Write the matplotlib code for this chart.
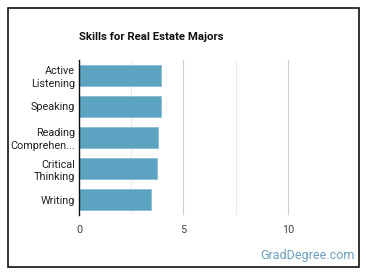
import matplotlib.pyplot as plt
from matplotlib.patches import Rectangle

plt.rcParams['font.family'] = ['Roboto', 'DejaVu Sans']

skills = ['Active\nListening', 'Speaking', 'Reading\nComprehen...', 'Critical\nThinking', 'Writing']
scores = [3.92, 3.92, 3.78, 3.73, 3.44]

fig = plt.figure(figsize=(3.7, 2.78), dpi=100)
ax = fig.add_axes([79/370, 1-215/278, (340-79)/370, (215-60)/278])

ypos = list(range(len(skills)))[::-1]
ax.barh(ypos, scores, height=0.65, color='#5ba3c0', edgecolor='#86bdd3', linewidth=0.6, zorder=3)

ax.set_xlim(0, 12.5)
ax.set_ylim(-0.5, len(skills) - 0.5)
ax.set_xticks([0, 5, 10])
ax.set_xticks([2.5, 7.5], minor=True)
ax.set_yticks(ypos)
ax.set_yticklabels(skills, fontsize=7.8, color='#222222', linespacing=1.3)
ax.tick_params(axis='x', labelsize=7.8, colors='#444444', length=0, pad=7)
ax.tick_params(axis='x', which='minor', length=0)
ax.tick_params(axis='y', length=0, pad=3)
ax.grid(axis='x', which='major', color='#d0d0d0', linewidth=0.8, zorder=0)
ax.grid(axis='x', which='minor', color='#ececec', linewidth=0.8, zorder=0)
for s in ['top', 'right', 'bottom']:
    ax.spines[s].set_visible(False)
ax.spines['left'].set_color('#111111')
ax.spines['left'].set_linewidth(1.0)
ax.spines['left'].set_zorder(4)

fig.text(79/370, 1-37/278, 'Skills for Real Estate Majors', fontsize=8.2,
         fontweight='bold', color='#111111', va='center', ha='left')
fig.text(355/370, 1-255/278, 'GradDegree.com', fontsize=9, color='#6d9fbe',
         va='center', ha='right')

fig.patches.append(Rectangle((8/370, 1-267/278), (359-8)/370, (267-8)/278,
                             transform=fig.transFigure, fill=False,
                             edgecolor='#111111', linewidth=1.2))

fig.savefig('out.png', dpi=100)
